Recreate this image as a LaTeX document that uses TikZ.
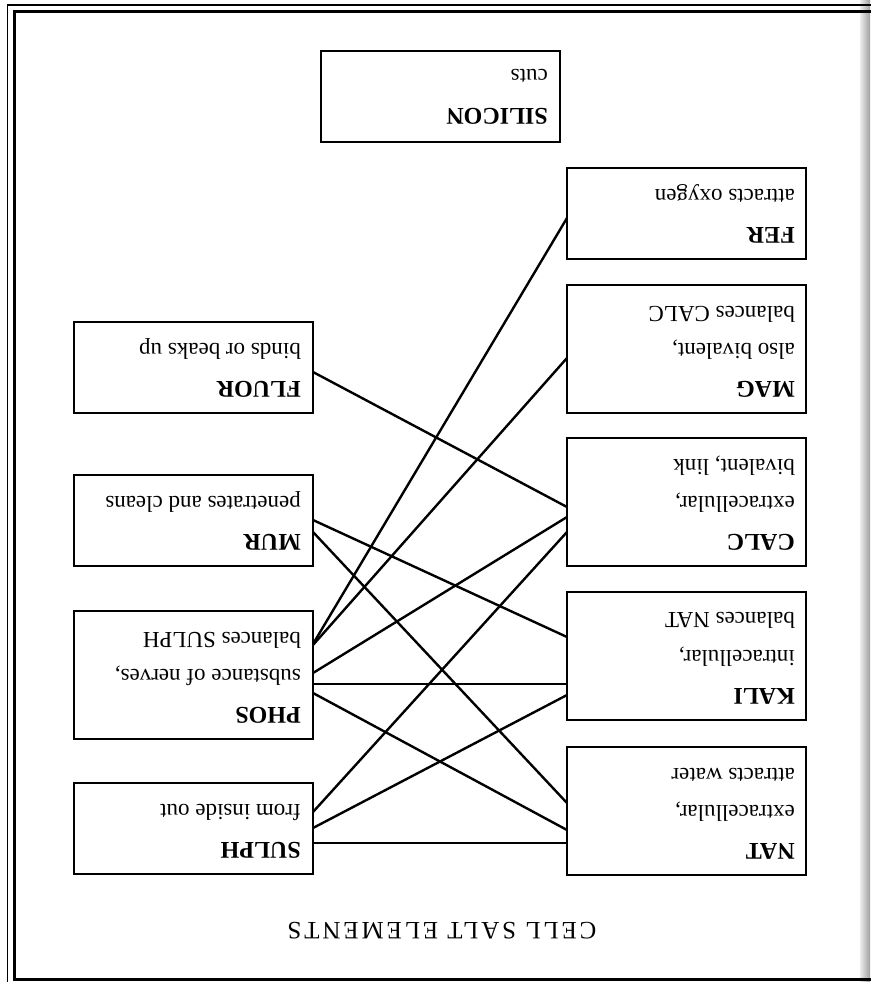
\documentclass[tikz,border=0pt]{standalone}
\usepackage{fontspec}
\setmainfont{Liberation Serif}
\begin{document}
\begin{tikzpicture}[x=1pt,y=-1pt]
\tikzset{
  cbox/.style={draw, line width=2.4pt, minimum width=239pt, inner sep=0pt, outer sep=0pt, anchor=north west},
  smallbox/.style={cbox, minimum height=91pt},
  tallbox/.style={cbox, minimum height=128pt},
  lbl/.style={rotate=180, anchor=base west, inner sep=0pt, font=\fontsize{23}{27}\selectfont},
  ttl/.style={lbl, font=\fontsize{24}{27}\selectfont\bfseries},
  headline/.style={rotate=180, anchor=base, inner sep=0pt, font=\fontsize{25}{28}\selectfont\addfontfeature{LetterSpace=11.5}},
  link/.style={line width=2.4pt},
}
\useasboundingbox (0,0) rectangle (870,982);
\fill[white] (0,0) rectangle (870,982);
% page gutter shadow
\shade[left color=gray!15, right color=gray!75] (860,0) rectangle (870,982);
% frame
\draw[line width=1.5pt] (7.5,995) -- (7.5,5) -- (880,5);
\draw[line width=3pt] (880,12) -- (14,12) -- (14,979) -- (880,979);

% boxes
\node[smallbox] (silicon) at (321,51) {};
\node[smallbox] (fer) at (567,168) {};
\node[tallbox] (mag) at (567,285) {};
\node[tallbox] (calc) at (567,438) {};
\node[tallbox] (kali) at (567,592) {};
\node[tallbox] (nat) at (567,747) {};
\node[smallbox] (fluor) at (74,322) {};
\node[smallbox] (mur) at (74,475) {};
\node[tallbox] (phos) at (74,611) {};
\node[smallbox] (sulph) at (74,783) {};

% texts
\node[ttl] (silicon-a) at ([xshift=-12pt,yshift=34pt]silicon.south east) {SILICON};
\node[lbl] (silicon-b) at ([xshift=-12pt,yshift=72pt]silicon.south east) {cuts};

\node[ttl] (fer-a) at ([xshift=-11pt,yshift=32pt]fer.south east) {FER};
\node[lbl] (fer-b) at ([xshift=-11pt,yshift=70pt]fer.south east) {attracts oxygen};

\node[ttl] (mag-a) at ([xshift=-11pt,yshift=32pt]mag.south east) {MAG};
\node[lbl] (mag-b) at ([xshift=-11pt,yshift=70pt]mag.south east) {also bivalent,};
\node[lbl] (mag-c) at ([xshift=-11pt,yshift=107pt]mag.south east) {balances CALC};

\node[ttl] (calc-a) at ([xshift=-11pt,yshift=32pt]calc.south east) {CALC};
\node[lbl] (calc-b) at ([xshift=-11pt,yshift=70pt]calc.south east) {extracellular,};
\node[lbl] (calc-c) at ([xshift=-11pt,yshift=107pt]calc.south east) {bivalent, link};

\node[ttl] (kali-a) at ([xshift=-11pt,yshift=32pt]kali.south east) {KALI};
\node[lbl] (kali-b) at ([xshift=-11pt,yshift=70pt]kali.south east) {intracellular,};
\node[lbl] (kali-c) at ([xshift=-11pt,yshift=108pt]kali.south east) {balances NAT};

\node[ttl] (nat-a) at ([xshift=-11pt,yshift=32pt]nat.south east) {NAT};
\node[lbl] (nat-b) at ([xshift=-11pt,yshift=70pt]nat.south east) {extracellular,};
\node[lbl] (nat-c) at ([xshift=-11pt,yshift=107pt]nat.south east) {attracts water};

\node[ttl] (fluor-a) at ([xshift=-12pt,yshift=32pt]fluor.south east) {FLUOR};
\node[lbl] (fluor-b) at ([xshift=-12pt,yshift=70pt]fluor.south east) {binds or beaks up};

\node[ttl] (mur-a) at ([xshift=-12pt,yshift=32pt]mur.south east) {MUR};
\node[lbl] (mur-b) at ([xshift=-12pt,yshift=70pt]mur.south east) {penetrates and cleans};

\node[ttl] (phos-a) at ([xshift=-12pt,yshift=32pt]phos.south east) {PHOS};
\node[lbl] (phos-b) at ([xshift=-12pt,yshift=70pt]phos.south east) {substance of nerves,};
\node[lbl] (phos-c) at ([xshift=-12pt,yshift=107pt]phos.south east) {balances SULPH};

\node[ttl] (sulph-a) at ([xshift=-12pt,yshift=32pt]sulph.south east) {SULPH};
\node[lbl] (sulph-b) at ([xshift=-12pt,yshift=70pt]sulph.south east) {from inside out};

\node[headline] (title) at (442,922) {CELL SALT ELEMENTS};

% connectors
\draw[link] (fer.west |- 0,218) -- (phos.east |- 0,644);
\draw[link] (mag.west |- 0,358) -- (phos.east |- 0,645);
\draw[link] (fluor.east |- 0,372) -- (calc.west |- 0,507);
\draw[link] (calc.west |- 0,517) -- (phos.east |- 0,673);
\draw[link] (calc.west |- 0,532) -- (sulph.east |- 0,812);
\draw[link] (mur.east |- 0,520) -- (kali.west |- 0,637);
\draw[link] (mur.east |- 0,532) -- (nat.west |- 0,803);
\draw[link] (phos.east |- 0,684) -- (kali.west |- 0,684);
\draw[link] (phos.east |- 0,693) -- (nat.west |- 0,830);
\draw[link] (kali.west |- 0,695) -- (sulph.east |- 0,828);
\draw[link] (sulph.east |- 0,843) -- (nat.west |- 0,843);
\end{tikzpicture}
\end{document}
